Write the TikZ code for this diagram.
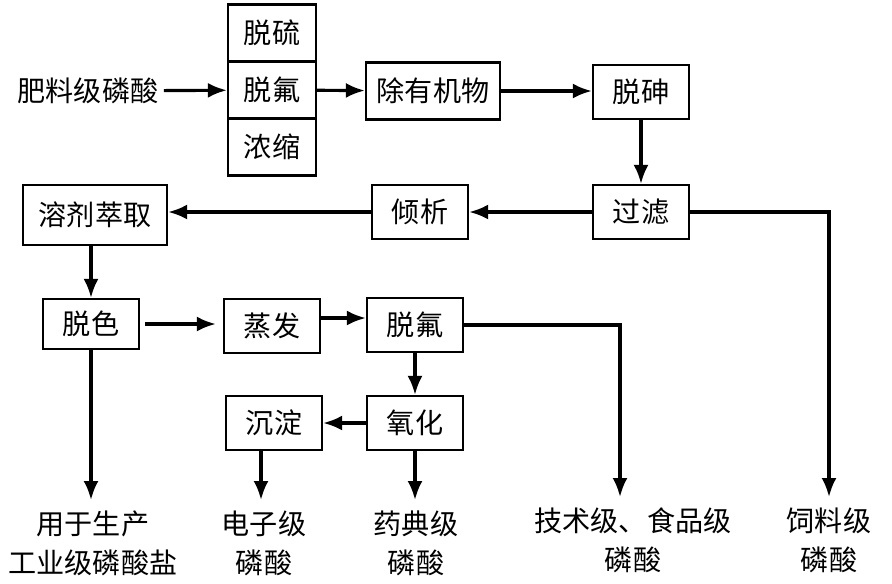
\documentclass[tikz,border=0pt]{standalone}
\usepackage{fontspec}
\setmainfont{Noto Sans CJK SC}
\usepackage{tikz}
\usetikzlibrary{arrows.meta, positioning}

\begin{document}
\begin{tikzpicture}[
    x=0.02cm, y=-0.02cm,
    font=\fontsize{16}{22}\selectfont,
    box/.style={draw, rectangle, line width=1.3pt, minimum width=1.92cm, minimum height=1.08cm, align=center, inner sep=1pt},
    stackbox/.style={box, minimum width=1.76cm, minimum height=1.14cm},
    product/.style={anchor=north, align=center, inner sep=0pt, inner ysep=6pt},
    arrow/.style={-{Latex[length=0.38cm, width=0.3cm]}, line width=1.8pt}
]
\useasboundingbox (0,0) rectangle (892,583);

% Pretreatment
\node[inner sep=3pt] (feed) at (88,91) {肥料级磷酸};
\node[stackbox] (desulf) at (272,33) {脱硫};
\node[stackbox, below=-1.3pt of desulf] (defluor) {脱氟};
\node[stackbox, below=-1.3pt of defluor] (conc) {浓缩};
\node[box, minimum width=2.68cm, minimum height=1.14cm] (organic) at (433,91) {除有机物};
\node[box] (arsenic) at (641,92) {脱砷};
\node[box] (filter) at (641,212) {过滤};
\node[box] (decant) at (420,212) {倾析};
\node[box, minimum width=2.88cm, minimum height=1.2cm] (extract) at (95,215) {溶剂萃取};

% Purification
\node[box, minimum height=1.0cm] (decolor) at (91,324) {脱色};
\node[box] (evap) at (272,326) {蒸发};
\node[box] (defluor2) at (415,325) {脱氟};
\node[box] (oxid) at (415,423) {氧化};
\node[box] (precip) at (274,423) {沉淀};

% Products
\node[product] (industrial) at (93,500) {用于生产\\工业级磷酸盐};
\node[product] (electronic) at (264,500) {电子级\\磷酸};
\node[product] (pharma) at (416,500) {药典级\\磷酸};
\node[product] (food) at (633,497) {技术级、食品级\\磷酸};
\node[product] (feedgrade) at (829,497) {饲料级\\磷酸};

\draw[arrow] (feed) -- (defluor);
\draw[arrow] (defluor) -- (organic);
\draw[arrow] (organic) -- (organic -| arsenic.west);
\draw[arrow] (arsenic) -- (filter);
\draw[arrow] (filter) -- (decant);
\draw[arrow] (decant) -- (decant -| extract.east);
\draw[arrow] (filter.east) -| (feedgrade.north);
\draw[arrow] (extract.south -| decolor) -- (decolor);
\draw[arrow, shorten <=0.1cm, shorten >=0.14cm] (decolor) -- (decolor -| evap.west);
\draw[arrow] ([yshift=0.16cm]evap.east) -- ([yshift=0.16cm]evap.east -| defluor2.west);
\draw[arrow] (defluor2) -- (oxid);
\draw[arrow] (oxid) -- (precip);
\draw[arrow] (defluor2.east) -| ([xshift=-0.26cm]food.north);
\draw[arrow] (decolor) -- (decolor |- industrial.north);
\draw[arrow] ([xshift=-0.26cm]precip.south) -- ([xshift=-0.26cm]precip.south |- electronic.north);
\draw[arrow] (oxid) -- (oxid |- pharma.north);
\end{tikzpicture}
\end{document}
